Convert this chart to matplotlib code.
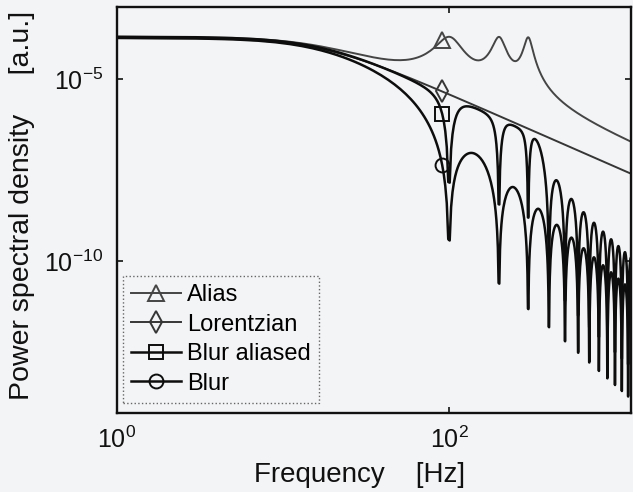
import numpy as np
import matplotlib
matplotlib.use("Agg")
import matplotlib.pyplot as plt
from matplotlib.ticker import FixedLocator, FixedFormatter, NullLocator

# ---- model parameters of the trapped-bead spectra ----
freq_hz = np.arange(1, 1250, 2)          # frequency grid [Hz]
psd_plateau = 1.35e-4                    # low-frequency PSD level [a.u.]
corner_hz = 17.0                         # Lorentzian corner frequency [Hz]
exposure_s = 0.01                        # camera integration time [s]
alias_shifts_hz = [-300, -200, -100, 0, 100, 200, 300]
marker_hz = 91                           # where the series markers sit

series_names = ["Alias", "Lorentzian", "Blur aliased", "Blur"]
series_markers = ["^", "d", "s", "o"]
series_colors = ["#454545", "#363636", "#0d0d0d", "#0d0d0d"]
series_widths = [1.4, 1.4, 1.8, 1.8]

xtick_values = [1e0, 1e2]
xtick_labels = [r"$\mathregular{10^{0}}$", r"$\mathregular{10^{2}}$"]
ytick_values = [1e-10, 1e-5]
ytick_labels = [r"$\mathregular{10^{-10}}$", r"$\mathregular{10^{-5}}$"]


def lorentzian(f):
    return psd_plateau / (1.0 + (f / corner_hz) ** 2)


lorentz = lorentzian(freq_hz)
alias = np.sum([lorentzian(freq_hz - s) for s in alias_shifts_hz], axis=0)
blur_filter = np.sinc(freq_hz * exposure_s) ** 2
blur = lorentz * blur_filter
blur_aliased = alias * blur_filter
curves = [alias, lorentz, blur_aliased, blur]

# ---- styling ----
plt.rcParams["font.family"] = ["Liberation Sans", "DejaVu Sans"]
plt.rcParams["mathtext.fontset"] = "custom"
plt.rcParams["mathtext.rm"] = "Liberation Sans"
plt.rcParams["mathtext.default"] = "regular"

paper = "#f3f4f6"
W, H = 633, 492
fig = plt.figure(figsize=(W / 100, H / 100), dpi=100, facecolor=paper)
ax = fig.add_axes([117 / W, 1 - 413 / H, (631 - 117) / W, (413 - 7) / H])
ax.set_facecolor(paper)

mark_idx = int(np.argmin(np.abs(freq_hz - marker_hz)))
marker_sizes = {"^": 11, "d": 11, "s": 9.5, "o": 10}
for y, name, mk, col, lw in zip(curves, series_names, series_markers,
                                series_colors, series_widths):
    ax.plot(freq_hz, y, color=col, lw=lw, marker=mk, markevery=[mark_idx],
            markersize=marker_sizes[mk], markerfacecolor="none",
            markeredgecolor=col, markeredgewidth=1.4, label=name)

ax.set_xscale("log")
ax.set_yscale("log")
ax.set_xlim(1, 1249)
ax.set_ylim(10 ** -14.18, 10 ** -3.02)

ax.xaxis.set_major_locator(FixedLocator(xtick_values))
ax.xaxis.set_major_formatter(FixedFormatter(xtick_labels))
ax.yaxis.set_major_locator(FixedLocator(ytick_values))
ax.yaxis.set_major_formatter(FixedFormatter(ytick_labels))
ax.xaxis.set_minor_locator(NullLocator())
ax.yaxis.set_minor_locator(NullLocator())
ax.tick_params(direction="in", length=4, width=1.2, top=True, right=True,
               labelsize=18, colors="#111111")
ax.tick_params(axis="y", pad=10)
ax.tick_params(axis="x", pad=10)
for sp in ax.spines.values():
    sp.set_linewidth(1.7)
    sp.set_color("#111111")

fig.text(360 / W, 1 - 475 / H, "Frequency    [Hz]", fontsize=20,
         ha="center", va="center", color="#111111")
fig.text(22 / W, 1 - 205 / H, "Power spectral density     [a.u.]",
         fontsize=20.5, rotation=90, ha="center", va="center",
         color="#111111")

leg = ax.legend(loc="lower left", bbox_to_anchor=(0.0117, 0.0246),
                borderaxespad=0, fontsize=17, handlelength=2.1,
                handletextpad=0.25, labelspacing=0.32, borderpad=0.35,
                numpoints=1, fancybox=False, framealpha=1,
                facecolor=paper, edgecolor="#666666")
leg.get_frame().set_linestyle(":")
leg.get_frame().set_linewidth(1.0)

fig.savefig("out.png", dpi=100, facecolor=paper)
